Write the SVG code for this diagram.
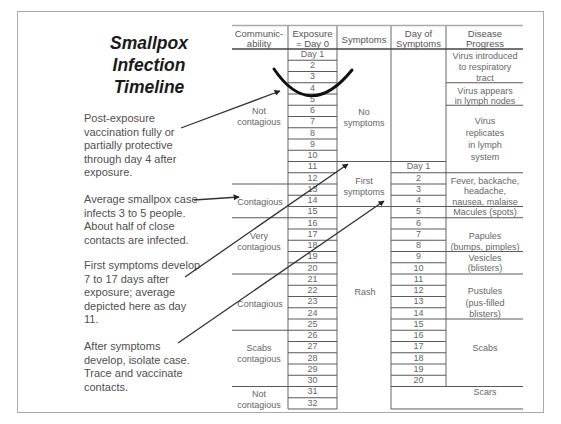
<svg xmlns="http://www.w3.org/2000/svg" width="561" height="424" viewBox="0 0 561 424">
<defs>
<style>
.t{font-family:"Liberation Sans",Arial,sans-serif;font-size:9px;fill:#666;text-anchor:middle}
.h{font-family:"Liberation Sans",Arial,sans-serif;font-size:9.5px;fill:#555;text-anchor:middle}
.n{font-family:"Liberation Sans",Arial,sans-serif;font-size:11px;fill:#505050}
.title{font-family:"Liberation Sans",Arial,sans-serif;font-size:17.5px;font-weight:bold;font-style:italic;fill:#1a1a1a;text-anchor:middle}
.rl{stroke:#5a5a5a;stroke-width:1.2;fill:none}
.vl{stroke:#999;stroke-width:1.5;fill:none}
.arr{stroke:#333;stroke-width:1.3;fill:none;marker-end:url(#ah)}
</style>
<marker id="ah" viewBox="0 0 10 10" refX="9" refY="5" markerWidth="6" markerHeight="6" orient="auto" markerUnits="userSpaceOnUse">
<path d="M0,0 L10,5 L0,10 z" fill="#222"/>
</marker>
</defs>
<rect x="0" y="0" width="561" height="424" fill="#fff"/>
<rect x="17.5" y="11.5" width="526" height="401" fill="none" stroke="#aaa" stroke-width="1"/>

<g id="title">
<text class="title" x="149" y="49">Smallpox</text>
<text class="title" x="149" y="71">Infection</text>
<text class="title" x="149" y="93">Timeline</text>
</g>

<g id="note-vaccination">
<text class="n" x="84" y="122">Post-exposure</text>
<text class="n" x="84" y="135.5">vaccination fully or</text>
<text class="n" x="84" y="149">partially protective</text>
<text class="n" x="84" y="162.5">through day 4 after</text>
<text class="n" x="84" y="176">exposure.</text>
</g>
<g id="note-average">
<text class="n" x="84" y="203">Average smallpox case</text>
<text class="n" x="84" y="216.5">infects 3 to 5 people.</text>
<text class="n" x="84" y="230">About half of close</text>
<text class="n" x="84" y="243.5">contacts are infected.</text>
</g>
<g id="note-first-symptoms">
<text class="n" x="84" y="269">First symptoms develop</text>
<text class="n" x="84" y="282.5">7 to 17 days after</text>
<text class="n" x="84" y="296">exposure; average</text>
<text class="n" x="84" y="309.5">depicted here as day</text>
<text class="n" x="84" y="323">11.</text>
</g>
<g id="note-isolate">
<text class="n" x="84" y="350">After symptoms</text>
<text class="n" x="84" y="363.5">develop, isolate case.</text>
<text class="n" x="84" y="377">Trace and vaccinate</text>
<text class="n" x="84" y="390.5">contacts.</text>
</g>

<g id="table-grid">
<path class="vl" d="M288,25.5 V409 M337,25.5 V409 M391,25.5 V409 M446,25.5 V386.5"/>
<path d="M232,25.5 H523" stroke="#aaa" stroke-width="1.5"/>
<path d="M232,49 H523" stroke="#444" stroke-width="1.5"/>
<path class="rl" d="M288,60.25H337 M288,71.5H337 M288,82.75H337 M288,94H337 M288,105.25H337 M288,116.5H337 M288,127.75H337 M288,139H337 M288,150.25H337 M288,161.5H337 M288,172.75H337 M288,184H337 M288,195.25H337 M288,206.5H337 M288,217.75H337 M288,229H337 M288,240.25H337 M288,251.5H337 M288,262.75H337 M288,274H337 M288,285.25H337 M288,296.5H337 M288,307.75H337 M288,319H337 M288,330.25H337 M288,341.5H337 M288,352.75H337 M288,364H337 M288,375.25H337 M288,386.5H337 M288,397.75H337 M288,409H337"/>
<path class="rl" d="M391,172.75H446 M391,184H446 M391,195.25H446 M391,206.5H446 M391,217.75H446 M391,229H446 M391,240.25H446 M391,251.5H446 M391,262.75H446 M391,274H446 M391,285.25H446 M391,296.5H446 M391,307.75H446 M391,319H446 M391,330.25H446 M391,341.5H446 M391,352.75H446 M391,364H446 M391,375.25H446"/>
<path class="rl" d="M337,161.5H446 M337,206.5H391"/>
<path class="rl" d="M232,184H288 M232,217.75H288 M232,274H288 M232,330.25H288 M232,386.5H288"/>
<path class="rl" d="M446,82.75H523 M446,105.25H523 M446,172.75H523 M446,206.5H523 M446,217.75H523 M446,251.5H523 M446,274H523 M446,319H523 M391,386.5H523 M391,409H523"/>
</g>

<g id="headers">
<text class="h" x="259" y="37">Communic-</text>
<text class="h" x="259" y="46.5">ability</text>
<text class="h" x="312.5" y="37">Exposure</text>
<text class="h" x="312.5" y="46.5">= Day 0</text>
<text class="h" x="364" y="42.5">Symptoms</text>
<text class="h" x="418.5" y="37">Day of</text>
<text class="h" x="418.5" y="46.5">Symptoms</text>
<text class="h" x="485" y="37">Disease</text>
<text class="h" x="485" y="46.5">Progress</text>
</g>

<g id="col-communicability">
<text class="t" x="259" y="113.5">Not</text>
<text class="t" x="259" y="124.5">contagious</text>
<text class="t" x="260" y="205">Contagious</text>
<text class="t" x="259" y="238.5">Very</text>
<text class="t" x="259" y="250">contagious</text>
<text class="t" x="260" y="306.5">Contagious</text>
<text class="t" x="259" y="350.5">Scabs</text>
<text class="t" x="259" y="362">contagious</text>
<text class="t" x="259" y="396.5">Not</text>
<text class="t" x="259" y="408">contagious</text>
</g>

<g id="col-exposure">
<text class="t" x="312.5" y="56.9">Day 1</text>
<text class="t" x="312.5" y="68.15">2</text>
<text class="t" x="312.5" y="79.4">3</text>
<text class="t" x="312.5" y="90.65">4</text>
<text class="t" x="312.5" y="101.9">5</text>
<text class="t" x="312.5" y="113.15">6</text>
<text class="t" x="312.5" y="124.4">7</text>
<text class="t" x="312.5" y="135.65">8</text>
<text class="t" x="312.5" y="146.9">9</text>
<text class="t" x="312.5" y="158.15">10</text>
<text class="t" x="312.5" y="169.4">11</text>
<text class="t" x="312.5" y="180.65">12</text>
<text class="t" x="312.5" y="191.9">13</text>
<text class="t" x="312.5" y="203.15">14</text>
<text class="t" x="312.5" y="214.4">15</text>
<text class="t" x="312.5" y="225.65">16</text>
<text class="t" x="312.5" y="236.9">17</text>
<text class="t" x="312.5" y="248.15">18</text>
<text class="t" x="312.5" y="259.4">19</text>
<text class="t" x="312.5" y="270.65">20</text>
<text class="t" x="312.5" y="281.9">21</text>
<text class="t" x="312.5" y="293.15">22</text>
<text class="t" x="312.5" y="304.4">23</text>
<text class="t" x="312.5" y="315.65">24</text>
<text class="t" x="312.5" y="326.9">25</text>
<text class="t" x="312.5" y="338.15">26</text>
<text class="t" x="312.5" y="349.4">27</text>
<text class="t" x="312.5" y="360.65">28</text>
<text class="t" x="312.5" y="371.9">29</text>
<text class="t" x="312.5" y="383.15">30</text>
<text class="t" x="312.5" y="394.4">31</text>
<text class="t" x="312.5" y="405.65">32</text>
</g>

<g id="col-symptoms">
<text class="t" x="364" y="114.5">No</text>
<text class="t" x="364" y="126">symptoms</text>
<text class="t" x="364" y="183.5">First</text>
<text class="t" x="364" y="194.5">symptoms</text>
<text class="t" x="365" y="294.5">Rash</text>
</g>

<g id="col-day-of-symptoms">
<text class="t" x="418.5" y="169.4">Day 1</text>
<text class="t" x="418.5" y="180.65">2</text>
<text class="t" x="418.5" y="191.9">3</text>
<text class="t" x="418.5" y="203.15">4</text>
<text class="t" x="418.5" y="214.4">5</text>
<text class="t" x="418.5" y="225.65">6</text>
<text class="t" x="418.5" y="236.9">7</text>
<text class="t" x="418.5" y="248.15">8</text>
<text class="t" x="418.5" y="259.4">9</text>
<text class="t" x="418.5" y="270.65">10</text>
<text class="t" x="418.5" y="281.9">11</text>
<text class="t" x="418.5" y="293.15">12</text>
<text class="t" x="418.5" y="304.4">13</text>
<text class="t" x="418.5" y="315.65">14</text>
<text class="t" x="418.5" y="326.9">15</text>
<text class="t" x="418.5" y="338.15">16</text>
<text class="t" x="418.5" y="349.4">17</text>
<text class="t" x="418.5" y="360.65">18</text>
<text class="t" x="418.5" y="371.9">19</text>
<text class="t" x="418.5" y="383.15">20</text>
</g>

<g id="col-disease-progress">
<text class="t" x="485" y="58.5">Virus introduced</text>
<text class="t" x="485" y="69.5">to respiratory</text>
<text class="t" x="485" y="80.5">tract</text>
<text class="t" x="485" y="93.5">Virus appears</text>
<text class="t" x="485" y="104">in lymph nodes</text>
<text class="t" x="485" y="123.5">Virus</text>
<text class="t" x="485" y="135.5">replicates</text>
<text class="t" x="485" y="147.5">in lymph</text>
<text class="t" x="485" y="159.5">system</text>
<text class="t" x="485" y="183.5">Fever, backache,</text>
<text class="t" x="485" y="194">headache,</text>
<text class="t" x="485" y="205">nausea, malaise</text>
<text class="t" x="485" y="214.5">Macules (spots)</text>
<text class="t" x="485" y="238.5">Papules</text>
<text class="t" x="485" y="250">(bumps, pimples)</text>
<text class="t" x="485" y="260.5">Vesicles</text>
<text class="t" x="485" y="270.5">(blisters)</text>
<text class="t" x="485" y="294">Pustules</text>
<text class="t" x="485" y="306">(pus-filled</text>
<text class="t" x="485" y="317">blisters)</text>
<text class="t" x="485" y="350.5">Scabs</text>
<text class="t" x="485" y="395">Scars</text>
</g>

<g id="mark-day4">
<path d="M274,69 Q310,122 352,70" fill="none" stroke="#111" stroke-width="3" stroke-linecap="round"/>
</g>

<g id="connectors">
<path class="arr" d="M181,128 L280,91"/>
<path class="arr" d="M194,200 L239,197"/>
<path class="arr" d="M185,277 L348,164"/>
<path class="arr" d="M178,343 L384,201"/>
</g>
</svg>
